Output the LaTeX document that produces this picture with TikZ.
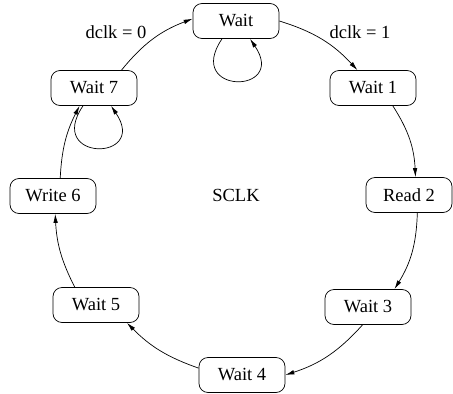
\documentclass[tikz,border=0pt]{standalone}
\usepackage{fontspec}
\setmainfont{Liberation Serif}
\usetikzlibrary{arrows.meta}
\begin{document}
\begin{tikzpicture}[x=1pt,y=1pt,
  state/.style={draw, line width=0.7pt, rounded corners=9pt, minimum width=86pt, minimum height=35pt, inner sep=0pt, font=\fontsize{18.5}{22}\selectfont},
  lbl/.style={inner sep=0pt, font=\fontsize{18.5}{22}\selectfont},
  arr/.style={line width=0.7pt, -{Latex[length=9pt,width=4.5pt]}}]
\useasboundingbox (0,0) rectangle (453,-394);
\node[state] (w) at (236,-21) {Wait};
\node[state] (w1) at (373,-88) {Wait 1};
\node[state] (r2) at (409,-195) {Read 2};
\node[state] (w3) at (368,-307) {Wait 3};
\node[state] (w4) at (242,-375) {Wait 4};
\node[state] (w5) at (96,-305) {Wait 5};
\node[state] (w6) at (53,-196) {Write 6};
\node[state] (w7) at (94,-88) {Wait 7};
\node[lbl] (sclk) at (236,-195) {SCLK};
\node[lbl] (l0) at (116,-32) {dclk = 0};
\node[lbl] (l1) at (360,-32) {dclk = 1};
\draw[arr] (w.east) to[bend left=15] (w1.131);
\draw[arr] (w1.-42) to[bend left=15] (r2.70);
\draw[arr] (r2.-65) to[bend left=15] (w3.34);
\draw[arr] (w3.-107) to[bend left=15] (w4.east);
\draw[arr] (w4.171) to[bend left=13] (w5.-30);
\draw[arr] (w5.140) to[bend left=12] (w6.-83);
\draw[arr] (w6.68) to[bend left=12] (w7.-129);
\draw[arr] (w7.33) to[bend left=15] (w.177);
\draw[arr] ([xshift=-14pt]w.south) .. controls +(-38pt,-56pt) and +(38pt,-56pt) .. ([xshift=14pt]w.south);
\draw[arr] ([xshift=-11pt]w7.south) .. controls +(-38pt,-56pt) and +(38pt,-56pt) .. ([xshift=17pt]w7.south);
\end{tikzpicture}
\end{document}
